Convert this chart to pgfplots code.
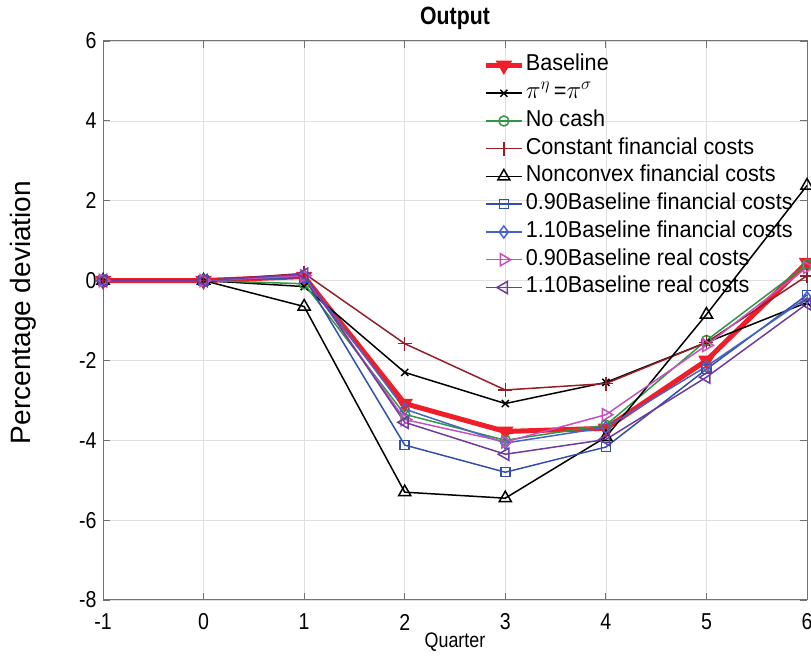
\documentclass[border=0pt]{standalone}
\usepackage{fontspec}
\setmainfont{Liberation Sans}
\newfontfamily\tallfont[FakeStretch=0.85]{Liberation Sans}
\newfontfamily\legfont[FakeStretch=0.94]{Liberation Sans}
\usepackage{pgfplots}
\pgfplotsset{compat=1.18}
\usetikzlibrary{calc}
\definecolor{cBase}{RGB}{240,30,40}
\definecolor{cGreen}{RGB}{50,150,70}
\definecolor{cDred}{RGB}{150,30,40}
\definecolor{cBlueA}{RGB}{50,80,170}
\definecolor{cBlueB}{RGB}{70,100,200}
\definecolor{cPink}{RGB}{200,80,190}
\definecolor{cPurple}{RGB}{110,60,160}
\begin{document}
\begin{tikzpicture}
\begin{axis}[
 scale only axis, width=704pt, height=559pt,
 xmin=-1, xmax=6, ymin=-8, ymax=6,
 xtick={-1,0,1,2,3,4,5,6}, ytick={-8,-6,-4,-2,0,2,4,6},
 xticklabels={-1,0,1,2,3,4,5,6}, yticklabels={-8,-6,-4,-2,0,2,4,6},
 ticklabel style={font=\tallfont\fontsize{23}{23}\selectfont},
 xticklabel style={anchor=center, yshift=-22pt},
 yticklabel style={anchor=east, xshift=-3pt},
 xmajorgrids, ymajorgrids, grid style={black!12, line width=0.6pt},
 axis line style={black!55, line width=1pt},
 tick align=inside, major tick length=7pt, tick style={black!55, line width=0.8pt},
 title={Output}, title style={font=\tallfont\fontsize{25}{25}\selectfont\bfseries, at={(axis description cs:0.5,1)}, anchor=center, yshift=17pt},
 xlabel={Quarter}, xlabel style={font=\tallfont\fontsize{21}{21}\selectfont, at={(axis description cs:0.5,0)}, anchor=center, yshift=-42pt},
 ylabel={Percentage deviation}, ylabel style={font=\fontsize{28}{28}\selectfont, at={(axis description cs:0,0.5)}, anchor=center, yshift=80pt, xshift=8pt},
 clip=false,
 legend cell align=left,
 legend style={draw=none, fill=none, at={(rel axis cs:0.54,0.978)}, anchor=north west,
   font=\legfont\fontsize{23}{23}\selectfont, row sep=3.75pt, inner sep=0pt,
   nodes={inner sep=1.5pt, text height=16pt, text depth=5pt}},
 legend image code/.code={\draw[mark repeat=2,mark phase=2] plot coordinates {(0pt,0pt)(18pt,0pt)(36pt,0pt)};},
 every axis plot/.append style={line width=1.5pt},
]
\addplot[cBase, line width=5pt, mark=triangle*, mark size=8.5pt, mark options={solid, line width=1pt, rotate=180, fill=cBase}]
 coordinates {(-1,0)(0,0)(1,0.1)(2,-3.08)(3,-3.78)(4,-3.7)(5,-2.0)(6,0.45)};
\addlegendentry{Baseline}
\addplot[black, mark=x, mark size=5pt, mark options={solid}]
 coordinates {(-1,0)(0,0)(1,-0.15)(2,-2.3)(3,-3.08)(4,-2.55)(5,-1.55)(6,-0.55)};
\addlegendentry{$\pi^{\eta}$\,=$\pi^{\sigma}$}
\addplot[cGreen, mark=o, mark size=5pt, mark options={solid}]
 coordinates {(-1,0)(0,0)(1,-0.08)(2,-3.35)(3,-4.0)(4,-3.62)(5,-1.5)(6,0.4)};
\addlegendentry{No cash}
\addplot[cDred, mark=+, mark size=7pt, mark options={solid}]
 coordinates {(-1,0)(0,0)(1,0.18)(2,-1.58)(3,-2.74)(4,-2.58)(5,-1.55)(6,0.12)};
\addlegendentry{Constant financial costs}
\addplot[black, mark=triangle, mark size=7pt, mark options={solid}]
 coordinates {(-1,0)(0,0)(1,-0.65)(2,-5.3)(3,-5.45)(4,-3.92)(5,-0.85)(6,2.38)};
\addlegendentry{Nonconvex financial costs}
\addplot[cBlueA, mark=square, mark size=4.5pt, mark options={solid}]
 coordinates {(-1,0)(0,0)(1,0.08)(2,-4.12)(3,-4.8)(4,-4.17)(5,-2.22)(6,-0.36)};
\addlegendentry{0.90Baseline financial costs}
\addplot[cBlueB, mark=diamond, mark size=6pt, mark options={solid}]
 coordinates {(-1,0)(0,0)(1,0.12)(2,-3.22)(3,-4.07)(4,-3.68)(5,-2.15)(6,-0.43)};
\addlegendentry{1.10Baseline financial costs}
\addplot[cPink, mark=triangle, mark size=7pt, mark options={solid, rotate=-90}]
 coordinates {(-1,0)(0,0)(1,0.12)(2,-3.48)(3,-4.04)(4,-3.36)(5,-1.62)(6,0.33)};
\addlegendentry{0.90Baseline real costs}
\addplot[cPurple, mark=triangle, mark size=7pt, mark options={solid, rotate=90}]
 coordinates {(-1,0)(0,0)(1,0.16)(2,-3.55)(3,-4.35)(4,-3.98)(5,-2.42)(6,-0.58)};
\addlegendentry{1.10Baseline real costs}
\coordinate (sw) at (rel axis cs:0,0);
\coordinate (ne) at (rel axis cs:1,1);
\end{axis}
\pgfresetboundingbox
\path[use as bounding box] ($(sw)+(-103pt,-57pt)$) rectangle ($(ne)+(4pt,41pt)$);
\end{tikzpicture}
\end{document}
